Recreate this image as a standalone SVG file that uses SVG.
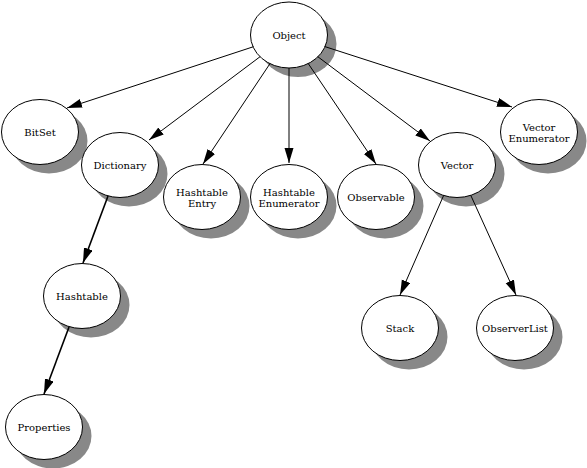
<svg xmlns="http://www.w3.org/2000/svg" width="587" height="468" viewBox="0 0 587 468">
<defs>
<style>
.sh{fill:#888888;stroke:none}
.nd{fill:#ffffff;stroke:#000000;stroke-width:1}
.lb{font-family:"DejaVu Serif","Liberation Serif",serif;font-size:10px;fill:#000000;text-anchor:middle}
.ed{stroke:#000000;stroke-width:1;fill:none;marker-end:url(#ah)}
.ed.thick{stroke-width:1.6}
</style>
<marker id="ah" markerUnits="userSpaceOnUse" markerWidth="16" markerHeight="10" refX="15" refY="4.5" orient="auto">
<path d="M0,0 L15,4.5 L0,9 z" fill="#000000"/>
</marker>
</defs>
<rect width="587" height="468" fill="#ffffff"/>
<g id="node-object"><ellipse class="sh" cx="298" cy="44" rx="38.5" ry="33"/><ellipse class="nd" cx="289" cy="35" rx="38.5" ry="33"/><text class="lb" x="289" y="38.5">Object</text></g>
<g id="node-bitset"><ellipse class="sh" cx="49" cy="141" rx="38.5" ry="32.5"/><ellipse class="nd" cx="40" cy="132" rx="38.5" ry="32.5"/><text class="lb" x="40" y="135.5">BitSet</text></g>
<g id="node-dictionary"><ellipse class="sh" cx="129" cy="174" rx="38.5" ry="32.5"/><ellipse class="nd" cx="120" cy="165" rx="38.5" ry="32.5"/><text class="lb" x="120" y="168.5">Dictionary</text></g>
<g id="node-hashtable-entry"><ellipse class="sh" cx="211" cy="206" rx="38.5" ry="32.5"/><ellipse class="nd" cx="202" cy="197" rx="38.5" ry="32.5"/><text class="lb" x="202" y="195.5">Hashtable</text><text class="lb" x="202" y="207">Entry</text></g>
<g id="node-hashtable-enumerator"><ellipse class="sh" cx="298" cy="206" rx="38.5" ry="32.5"/><ellipse class="nd" cx="289" cy="197" rx="38.5" ry="32.5"/><text class="lb" x="289" y="195.5">Hashtable</text><text class="lb" x="289" y="207">Enumerator</text></g>
<g id="node-observable"><ellipse class="sh" cx="385" cy="206" rx="38.5" ry="32.5"/><ellipse class="nd" cx="376" cy="197" rx="38.5" ry="32.5"/><text class="lb" x="376" y="200.5">Observable</text></g>
<g id="node-vector"><ellipse class="sh" cx="466" cy="174" rx="38.5" ry="32.5"/><ellipse class="nd" cx="457" cy="165" rx="38.5" ry="32.5"/><text class="lb" x="457" y="168.5">Vector</text></g>
<g id="node-vector-enumerator"><ellipse class="sh" cx="548" cy="141" rx="38.5" ry="32.5"/><ellipse class="nd" cx="539" cy="132" rx="38.5" ry="32.5"/><text class="lb" x="539" y="130.5">Vector</text><text class="lb" x="539" y="142">Enumerator</text></g>
<g id="node-hashtable"><ellipse class="sh" cx="91" cy="305" rx="38.5" ry="32.5"/><ellipse class="nd" cx="82" cy="296" rx="38.5" ry="32.5"/><text class="lb" x="82" y="299.5">Hashtable</text></g>
<g id="node-properties"><ellipse class="sh" cx="53" cy="436" rx="38.5" ry="32.5"/><ellipse class="nd" cx="44" cy="427" rx="38.5" ry="32.5"/><text class="lb" x="44" y="430.5">Properties</text></g>
<g id="node-stack"><ellipse class="sh" cx="409" cy="337" rx="38.5" ry="32.5"/><ellipse class="nd" cx="400" cy="328" rx="38.5" ry="32.5"/><text class="lb" x="400" y="331.5">Stack</text></g>
<g id="node-observerlist"><ellipse class="sh" cx="524" cy="337" rx="38.5" ry="32.5"/><ellipse class="nd" cx="515" cy="328" rx="38.5" ry="32.5"/><text class="lb" x="515" y="331.5">ObserverList</text></g>
<g id="connectors">
<line class="ed" x1="253.5" y1="46.7" x2="67" y2="108"/>
<line class="ed" x1="260.2" y1="56.6" x2="149" y2="140"/>
<line class="ed" x1="270" y1="63.6" x2="203" y2="164"/>
<line class="ed" x1="289" y1="68" x2="289" y2="163"/>
<line class="ed" x1="308.2" y1="63.5" x2="376" y2="164"/>
<line class="ed" x1="317.7" y1="56.6" x2="430" y2="141"/>
<line class="ed" x1="324.6" y1="46.5" x2="512" y2="107"/>
<line class="ed thick" x1="108" y1="196" x2="83" y2="263"/>
<line class="ed thick" x1="69" y1="327" x2="44" y2="394"/>
<line class="ed" x1="443.6" y1="195.5" x2="400" y2="295"/>
<line class="ed" x1="470.8" y1="195.4" x2="516" y2="295"/>
</g>
</svg>
